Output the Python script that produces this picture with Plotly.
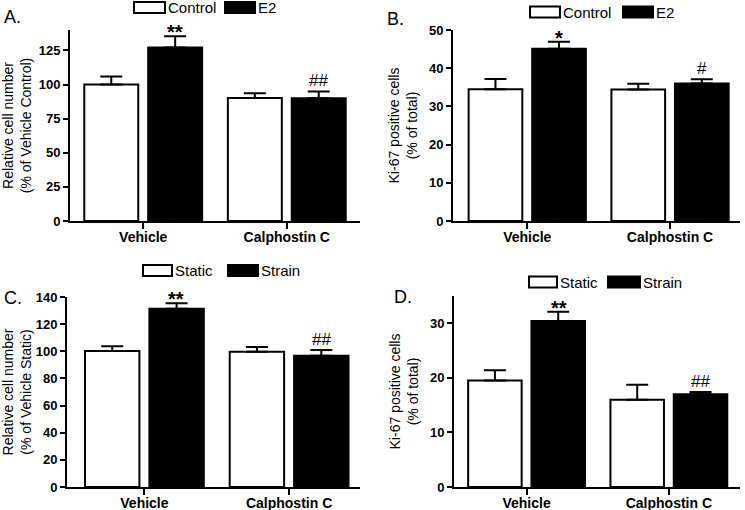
import plotly.graph_objects as go

W, H = 745, 510
FONT = "Arial, Liberation Sans, sans-serif"

categories = ["Vehicle", "Calphostin C"]

# Panel A
a_control = [100.0, 90.2]
a_control_err = [6.0, 3.5]
a_e2 = [127.2, 90.0]
a_e2_err = [8.2, 5.0]
a_marks = ["**", "##"]

# Panel B
b_control = [34.5, 34.4]
b_control_err = [2.7, 1.5]
b_e2 = [45.1, 36.0]
b_e2_err = [1.8, 1.1]
b_marks = ["*", "#"]

# Panel C
c_static = [100.2, 99.7]
c_static_err = [3.6, 3.5]
c_strain = [131.3, 96.8]
c_strain_err = [4.1, 4.1]
c_marks = ["**", "##"]

# Panel D
d_static = [19.5, 16.0]
d_static_err = [1.9, 2.75]
d_strain = [30.4, 17.0]
d_strain_err = [1.7, 0.4]
d_marks = ["**", "##"]

fig = go.Figure()


def px_x(x):
    return x / W


def px_y(y):
    return 1 - y / H


panels = [
    dict(key="", x0=70, x1=360, y0=30, y1=221, xr=[-0.51, 1.51], yr=[0, 140], dt=25,
         s1=("Control", a_control, a_control_err), s2=("E2", a_e2, a_e2_err), marks=a_marks,
         title="Relative cell number<br>(% of Vehicle Control)", label="A.", lab=(2, 17),
         leg=(134, 31, 7.5, 225, 255)),
    dict(key="2", x0=453, x1=740, y0=30, y1=221, xr=[-0.52, 1.49], yr=[0, 50], dt=10,
         s1=("Control", b_control, b_control_err), s2=("E2", b_e2, b_e2_err), marks=b_marks,
         title="Ki-67 positive cells<br>(% of total)", label="B.", lab=(385, 19),
         leg=(530, 30, 12, 623, 653)),
    dict(key="3", x0=67, x1=360, y0=297, y1=487, xr=[-0.535, 1.49], yr=[0, 140], dt=20,
         s1=("Static", c_static, c_static_err), s2=("Strain", c_strain, c_strain_err), marks=c_marks,
         title="Relative cell number<br>(% of Vehicle Static)", label="C.", lab=(2, 298),
         leg=(143, 29, 270.5, 228, 258)),
    dict(key="4", x0=454, x1=740, y0=296, y1=487, xr=[-0.51, 1.5], yr=[0, 35], dt=10,
         s1=("Static", d_static, d_static_err), s2=("Strain", d_strain, d_strain_err), marks=d_marks,
         title="Ki-67 positive cells<br>(% of total)", label="D.", lab=(392, 297),
         leg=(529, 28, 282, 608, 640)),
]

shapes = []
annotations = []

for p in panels:
    k = p["key"]
    xa = "x" + k
    ya = "y" + k
    for (name, vals, errs), fill in ((p["s1"], "white"), (p["s2"], "black")):
        fig.add_trace(go.Bar(
            x=categories, y=vals, name=name, xaxis=xa, yaxis=ya,
            marker=dict(color=fill, line=dict(color="black", width=2)),
            error_y=dict(type="data", array=errs, arrayminus=[0] * len(errs), symmetric=False,
                         color="black", thickness=2, width=11),
            showlegend=False, hoverinfo="skip",
        ))
    axis_font = dict(family=FONT, size=13, color="black", weight="bold")
    fig.layout["xaxis" + k] = dict(
        domain=[px_x(p["x0"]), px_x(p["x1"])], anchor=ya, range=p["xr"],
        showline=True, linecolor="black", linewidth=2, ticks="outside", ticklen=6,
        tickwidth=2, tickcolor="black", tickfont=dict(family=FONT, size=14, color="black", weight="bold"),
        ticklabelstandoff=-4,
        showgrid=False, zeroline=False, fixedrange=True, automargin=False,
    )
    fig.layout["yaxis" + k] = dict(
        domain=[px_y(p["y1"]), px_y(p["y0"])], anchor=xa, range=p["yr"], dtick=p["dt"],
        showline=True, linecolor="black", linewidth=2, ticks="outside", ticklen=5,
        tickwidth=2, tickcolor="black", tickfont=axis_font, showgrid=False, zeroline=False,
        title=dict(text=p["title"], font=dict(family=FONT, size=14, color="black"), standoff=8),
        fixedrange=True, automargin=False,
    )
    # significance marks above the second series
    _, v2, e2 = p["s2"]
    for cat, v, e, m in zip(categories, v2, e2, p["marks"]):
        star = "*" in m
        annotations.append(dict(
            x=cat, y=v + e, xref=xa, yref=ya, text=m, showarrow=False,
            xanchor="center", yanchor="bottom", xshift=32, yshift=-9 if star else -1,
            font=dict(family=FONT, size=20 if star else 17, color="black",
                      weight="bold" if star else "normal"),
        ))
    # panel label
    lx, ly = p["lab"]
    annotations.append(dict(
        x=px_x(lx), y=px_y(ly), xref="paper", yref="paper", text=p["label"], showarrow=False,
        xanchor="left", yanchor="middle", font=dict(family=FONT, size=18, color="black"),
    ))
    # legend boxes
    bx1, bw, by, bx2, bx2e = p["leg"]
    for (bx, bxe), fill, nm in (((bx1, bx1 + bw), "white", p["s1"][0]), ((bx2, bx2e), "black", p["s2"][0])):
        shapes.append(dict(type="rect", xref="paper", yref="paper",
                           x0=px_x(bx), x1=px_x(bxe), y0=px_y(by + 5.5), y1=px_y(by - 5.5),
                           fillcolor=fill, line=dict(color="black", width=2)))
        annotations.append(dict(
            x=px_x(bxe + 1), y=px_y(by), xref="paper", yref="paper", text=nm, showarrow=False,
            xanchor="left", yanchor="middle", font=dict(family=FONT, size=15, color="black"),
        ))

fig.update_layout(
    width=W, height=H, margin=dict(l=0, r=0, t=0, b=0, pad=0),
    paper_bgcolor="white", plot_bgcolor="white",
    barmode="group", bargap=0.11, bargroupgap=0.155,
    shapes=shapes, annotations=annotations, showlegend=False,
)

fig.write_html(
    "out.html",
    config={"displayModeBar": False, "staticPlot": True},
    post_script="document.body.style.margin='0';document.body.style.overflow='hidden';",
)
